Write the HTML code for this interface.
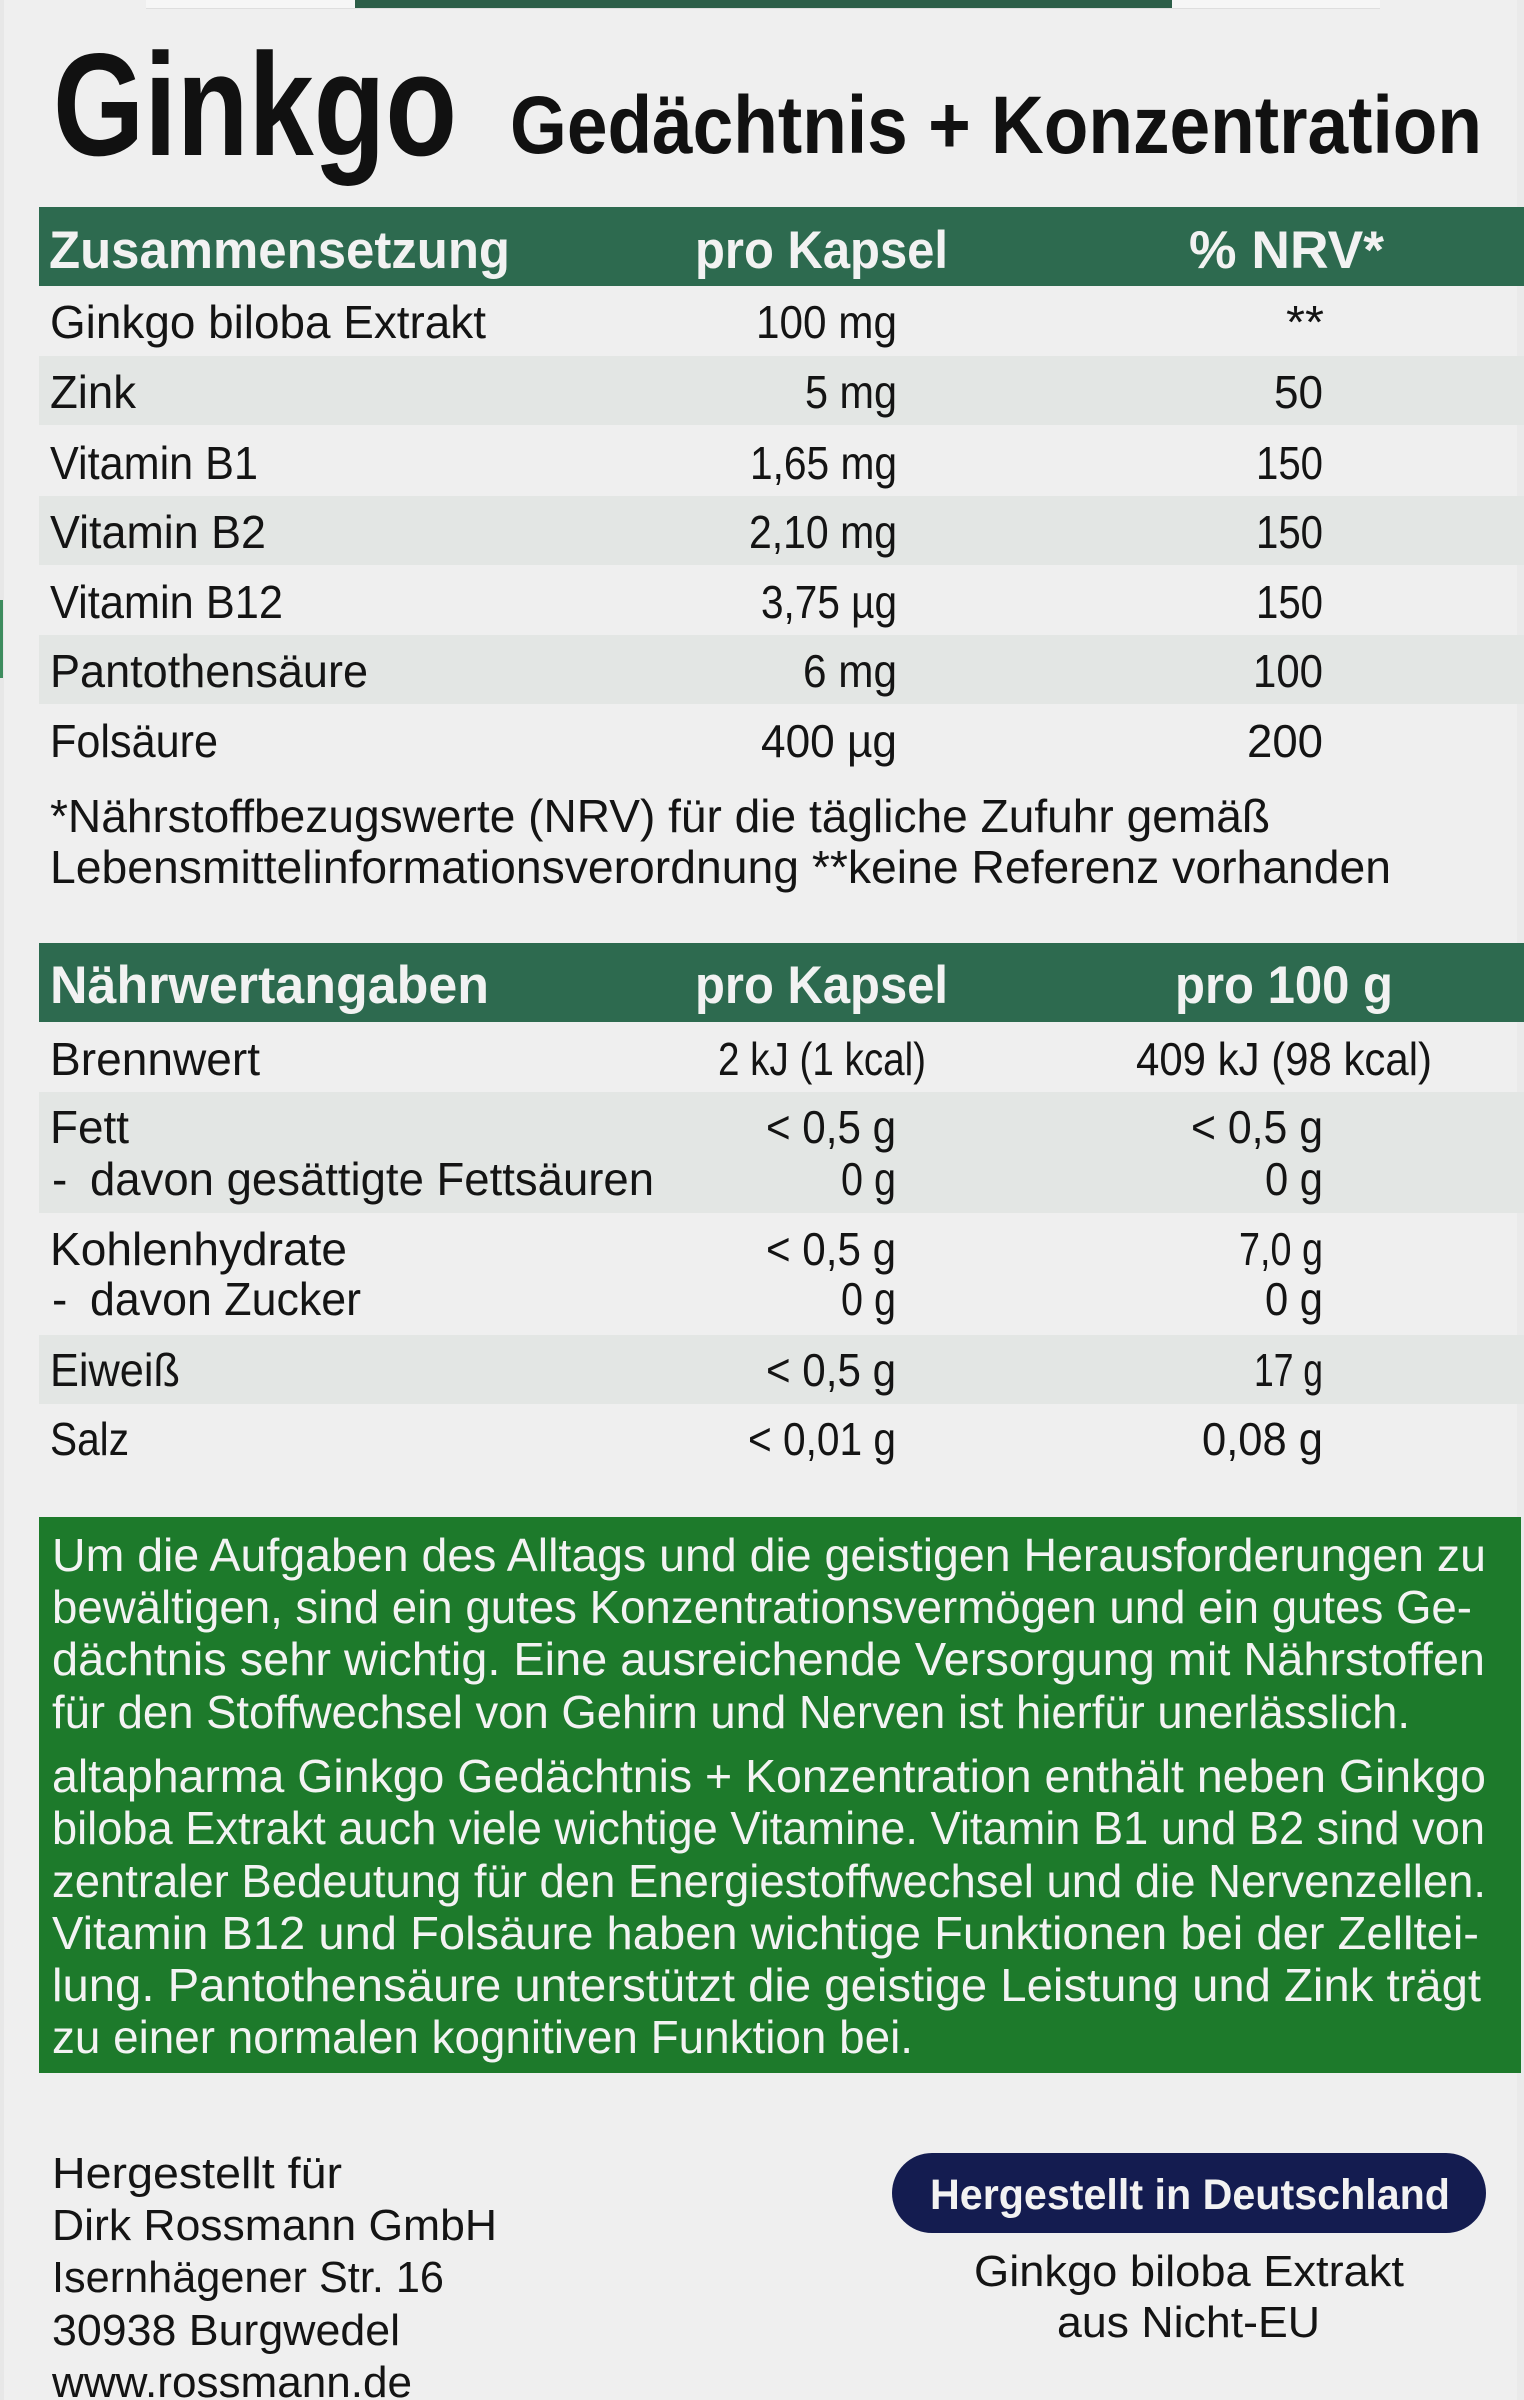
<!DOCTYPE html>
<html lang="de">
<head>
<meta charset="utf-8">
<title>Ginkgo Gedächtnis + Konzentration</title>
<style>
  html, body { margin: 0; padding: 0; background: #efefef; }
  svg { display: block; }
  text { font-family: "Liberation Sans", "DejaVu Sans", sans-serif; }
  .b { font-size: 46px; fill: #141414; }
  .h { font-size: 53px; font-weight: bold; fill: #f2f2f2; }
  .w { font-size: 46px; fill: #f3f3f3; }
  .a { font-size: 44px; fill: #141414; }
</style>
</head>
<body>
<svg width="1524" height="2400" viewBox="0 0 1524 2400" xmlns="http://www.w3.org/2000/svg">
  <!-- background -->
  <rect x="0" y="0" width="1524" height="2400" fill="#efefef"/>
  <rect x="0" y="0" width="4" height="2400" fill="#e7e7e7"/>
  <rect x="1517" y="0" width="7" height="2400" fill="#eaeaea"/>
  <!-- top strip -->
  <rect x="146" y="0" width="1234" height="8" fill="#f6f6f6"/>
  <rect x="146" y="8" width="1234" height="1" fill="#dedede"/>
  <rect x="355" y="0" width="817" height="8" fill="#2c5e48"/>
  <!-- left green mark -->
  <rect x="0" y="600" width="3" height="78" fill="#3d8c5e"/>

  <!-- Title -->
  <text x="53" y="155" font-size="146" font-weight="bold" fill="#111" textLength="404" lengthAdjust="spacingAndGlyphs">Ginkgo</text>
  <text x="510" y="153" font-size="82" font-weight="bold" fill="#111" textLength="972" lengthAdjust="spacingAndGlyphs">Gedächtnis + Konzentration</text>

  <!-- Table 1 header -->
  <rect x="39" y="207" width="1485" height="79" fill="#2d6a4f"/>
  <text class="h" x="49" y="268" textLength="461" lengthAdjust="spacingAndGlyphs">Zusammensetzung</text>
  <text class="h" x="695" y="268" textLength="253" lengthAdjust="spacingAndGlyphs">pro Kapsel</text>
  <text class="h" x="1189" y="268" textLength="195" lengthAdjust="spacingAndGlyphs">% NRV*</text>

  <!-- Table 1 shaded rows -->
  <rect x="39" y="356" width="1485" height="69" fill="#e3e6e4"/>
  <rect x="39" y="496" width="1485" height="69" fill="#e3e6e4"/>
  <rect x="39" y="635" width="1485" height="69" fill="#e3e6e4"/>

  <!-- Table 1 rows -->
  <text class="b" x="50" y="338" textLength="436" lengthAdjust="spacingAndGlyphs">Ginkgo biloba Extrakt</text>
  <text class="b" x="756" y="338" textLength="141" lengthAdjust="spacingAndGlyphs">100 mg</text>
  <text class="b" x="1286" y="338" textLength="38" lengthAdjust="spacingAndGlyphs">**</text>

  <text class="b" x="50" y="408" textLength="86" lengthAdjust="spacingAndGlyphs">Zink</text>
  <text class="b" x="805" y="408" textLength="92" lengthAdjust="spacingAndGlyphs">5 mg</text>
  <text class="b" x="1274" y="408" textLength="49" lengthAdjust="spacingAndGlyphs">50</text>

  <text class="b" x="50" y="479" textLength="208" lengthAdjust="spacingAndGlyphs">Vitamin B1</text>
  <text class="b" x="750" y="479" textLength="147" lengthAdjust="spacingAndGlyphs">1,65 mg</text>
  <text class="b" x="1256" y="479" textLength="67" lengthAdjust="spacingAndGlyphs">150</text>

  <text class="b" x="50" y="548" textLength="216" lengthAdjust="spacingAndGlyphs">Vitamin B2</text>
  <text class="b" x="749" y="548" textLength="148" lengthAdjust="spacingAndGlyphs">2,10 mg</text>
  <text class="b" x="1256" y="548" textLength="67" lengthAdjust="spacingAndGlyphs">150</text>

  <text class="b" x="50" y="618" textLength="233" lengthAdjust="spacingAndGlyphs">Vitamin B12</text>
  <text class="b" x="761" y="618" textLength="136" lengthAdjust="spacingAndGlyphs">3,75 µg</text>
  <text class="b" x="1256" y="618" textLength="67" lengthAdjust="spacingAndGlyphs">150</text>

  <text class="b" x="50" y="687" textLength="318" lengthAdjust="spacingAndGlyphs">Pantothensäure</text>
  <text class="b" x="803" y="687" textLength="94" lengthAdjust="spacingAndGlyphs">6 mg</text>
  <text class="b" x="1253" y="687" textLength="70" lengthAdjust="spacingAndGlyphs">100</text>

  <text class="b" x="50" y="757" textLength="168" lengthAdjust="spacingAndGlyphs">Folsäure</text>
  <text class="b" x="761" y="757" textLength="136" lengthAdjust="spacingAndGlyphs">400 µg</text>
  <text class="b" x="1247" y="757" textLength="76" lengthAdjust="spacingAndGlyphs">200</text>

  <!-- Footnote -->
  <text class="b" x="50" y="832" textLength="1220" lengthAdjust="spacingAndGlyphs">*Nährstoffbezugswerte (NRV) für die tägliche Zufuhr gemäß</text>
  <text class="b" x="50" y="883" textLength="1341" lengthAdjust="spacingAndGlyphs">Lebensmittelinformationsverordnung **keine Referenz vorhanden</text>

  <!-- Table 2 header -->
  <rect x="39" y="943" width="1485" height="79" fill="#2d6a4f"/>
  <text class="h" x="50" y="1003" textLength="439" lengthAdjust="spacingAndGlyphs">Nährwertangaben</text>
  <text class="h" x="695" y="1003" textLength="253" lengthAdjust="spacingAndGlyphs">pro Kapsel</text>
  <text class="h" x="1175" y="1003" textLength="218" lengthAdjust="spacingAndGlyphs">pro 100 g</text>

  <!-- Table 2 shaded rows -->
  <rect x="39" y="1092" width="1485" height="121" fill="#e3e6e4"/>
  <rect x="39" y="1335" width="1485" height="69" fill="#e3e6e4"/>

  <!-- Table 2 rows -->
  <text class="b" x="50" y="1075" textLength="210" lengthAdjust="spacingAndGlyphs">Brennwert</text>
  <text class="b" x="718" y="1075" textLength="208" lengthAdjust="spacingAndGlyphs">2 kJ (1 kcal)</text>
  <text class="b" x="1136" y="1075" textLength="296" lengthAdjust="spacingAndGlyphs">409 kJ (98 kcal)</text>

  <text class="b" x="50" y="1143" textLength="79" lengthAdjust="spacingAndGlyphs">Fett</text>
  <text class="b" x="766" y="1143" textLength="130" lengthAdjust="spacingAndGlyphs">&lt; 0,5 g</text>
  <text class="b" x="1191" y="1143" textLength="132" lengthAdjust="spacingAndGlyphs">&lt; 0,5 g</text>

  <text class="b" x="52" y="1195">-</text>
  <text class="b" x="90" y="1195" textLength="564" lengthAdjust="spacingAndGlyphs">davon gesättigte Fettsäuren</text>
  <text class="b" x="841" y="1195" textLength="55" lengthAdjust="spacingAndGlyphs">0 g</text>
  <text class="b" x="1265" y="1195" textLength="58" lengthAdjust="spacingAndGlyphs">0 g</text>

  <text class="b" x="50" y="1265" textLength="297" lengthAdjust="spacingAndGlyphs">Kohlenhydrate</text>
  <text class="b" x="766" y="1265" textLength="130" lengthAdjust="spacingAndGlyphs">&lt; 0,5 g</text>
  <text class="b" x="1239" y="1265" textLength="84" lengthAdjust="spacingAndGlyphs">7,0 g</text>

  <text class="b" x="52" y="1315">-</text>
  <text class="b" x="90" y="1315" textLength="271" lengthAdjust="spacingAndGlyphs">davon Zucker</text>
  <text class="b" x="841" y="1315" textLength="55" lengthAdjust="spacingAndGlyphs">0 g</text>
  <text class="b" x="1265" y="1315" textLength="58" lengthAdjust="spacingAndGlyphs">0 g</text>

  <text class="b" x="50" y="1386" textLength="130" lengthAdjust="spacingAndGlyphs">Eiweiß</text>
  <text class="b" x="766" y="1386" textLength="130" lengthAdjust="spacingAndGlyphs">&lt; 0,5 g</text>
  <text class="b" x="1254" y="1386" textLength="69" lengthAdjust="spacingAndGlyphs">17 g</text>

  <text class="b" x="50" y="1455" textLength="79" lengthAdjust="spacingAndGlyphs">Salz</text>
  <text class="b" x="748" y="1455" textLength="148" lengthAdjust="spacingAndGlyphs">&lt; 0,01 g</text>
  <text class="b" x="1202" y="1455" textLength="121" lengthAdjust="spacingAndGlyphs">0,08 g</text>

  <!-- Green description box -->
  <rect x="39" y="1517" width="1482" height="556" fill="#1d7a2b"/>
  <text class="w" x="52" y="1571" textLength="1434" lengthAdjust="spacingAndGlyphs">Um die Aufgaben des Alltags und die geistigen Herausforderungen zu</text>
  <text class="w" x="52" y="1623" textLength="1420" lengthAdjust="spacingAndGlyphs">bewältigen, sind ein gutes Konzentrationsvermögen und ein gutes Ge-</text>
  <text class="w" x="52" y="1675" textLength="1433" lengthAdjust="spacingAndGlyphs">dächtnis sehr wichtig. Eine ausreichende Versorgung mit Nährstoffen</text>
  <text class="w" x="52" y="1728" textLength="1358" lengthAdjust="spacingAndGlyphs">für den Stoffwechsel von Gehirn und Nerven ist hierfür unerlässlich.</text>
  <text class="w" x="52" y="1792" textLength="1434" lengthAdjust="spacingAndGlyphs">altapharma Ginkgo Gedächtnis + Konzentration enthält neben Ginkgo</text>
  <text class="w" x="52" y="1844" textLength="1433" lengthAdjust="spacingAndGlyphs">biloba Extrakt auch viele wichtige Vitamine. Vitamin B1 und B2 sind von</text>
  <text class="w" x="52" y="1897" textLength="1434" lengthAdjust="spacingAndGlyphs">zentraler Bedeutung für den Energiestoffwechsel und die Nervenzellen.</text>
  <text class="w" x="52" y="1949" textLength="1427" lengthAdjust="spacingAndGlyphs">Vitamin B12 und Folsäure haben wichtige Funktionen bei der Zelltei-</text>
  <text class="w" x="52" y="2001" textLength="1429" lengthAdjust="spacingAndGlyphs">lung. Pantothensäure unterstützt die geistige Leistung und Zink trägt</text>
  <text class="w" x="52" y="2053" textLength="861" lengthAdjust="spacingAndGlyphs">zu einer normalen kognitiven Funktion bei.</text>

  <!-- Manufacturer address -->
  <text class="a" x="52" y="2188" textLength="290" lengthAdjust="spacingAndGlyphs">Hergestellt für</text>
  <text class="a" x="52" y="2240" textLength="445" lengthAdjust="spacingAndGlyphs">Dirk Rossmann GmbH</text>
  <text class="a" x="52" y="2292" textLength="392" lengthAdjust="spacingAndGlyphs">Isernhägener Str. 16</text>
  <text class="a" x="52" y="2345" textLength="348" lengthAdjust="spacingAndGlyphs">30938 Burgwedel</text>
  <text class="a" x="52" y="2397" textLength="360" lengthAdjust="spacingAndGlyphs">www.rossmann.de</text>

  <!-- Made in Germany pill -->
  <rect x="892" y="2153" width="594" height="80" rx="40" ry="40" fill="#141c50"/>
  <text x="930" y="2209" font-size="43" font-weight="bold" fill="#f2f2f2" textLength="520" lengthAdjust="spacingAndGlyphs">Hergestellt in Deutschland</text>
  <text class="a" x="974" y="2286" textLength="430" lengthAdjust="spacingAndGlyphs">Ginkgo biloba Extrakt</text>
  <text class="a" x="1057" y="2337" textLength="263" lengthAdjust="spacingAndGlyphs">aus Nicht-EU</text>
</svg>
</body>
</html>
